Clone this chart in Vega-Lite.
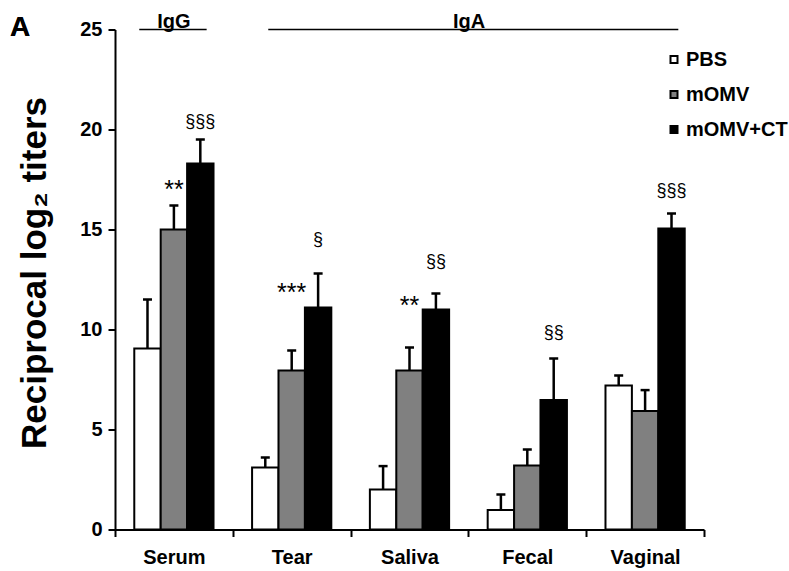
{
  "$schema": "https://vega.github.io/schema/vega-lite/v6.json",
  "autosize": {"type": "none"},
  "padding": {"left": 115, "top": 29.5, "right": 85, "bottom": 41.5},
  "width": 589,
  "height": 500,
  "background": "white",
  "config": {
    "view": {"stroke": null},
    "font": "Liberation Sans",
    "axis": {
      "domainColor": "black",
      "domainWidth": 2,
      "tickColor": "black",
      "tickWidth": 2,
      "labelColor": "black",
      "labelFont": "Liberation Sans",
      "labelFontWeight": "bold",
      "grid": false
    }
  },
  "datasets": {
    "bars": [
      {"sample": "Serum", "group": "PBS", "value": 9.05, "err": 11.5},
      {"sample": "Serum", "group": "mOMV", "value": 15.0, "err": 16.2},
      {"sample": "Serum", "group": "mOMV+CT", "value": 18.3, "err": 19.5},
      {"sample": "Tear", "group": "PBS", "value": 3.1, "err": 3.6},
      {"sample": "Tear", "group": "mOMV", "value": 7.95, "err": 8.95},
      {"sample": "Tear", "group": "mOMV+CT", "value": 11.1, "err": 12.8},
      {"sample": "Saliva", "group": "PBS", "value": 2.0, "err": 3.17},
      {"sample": "Saliva", "group": "mOMV", "value": 7.95, "err": 9.1},
      {"sample": "Saliva", "group": "mOMV+CT", "value": 11.0, "err": 11.8},
      {"sample": "Fecal", "group": "PBS", "value": 0.97, "err": 1.75},
      {"sample": "Fecal", "group": "mOMV", "value": 3.2, "err": 4.0},
      {"sample": "Fecal", "group": "mOMV+CT", "value": 6.47, "err": 8.55},
      {"sample": "Vaginal", "group": "PBS", "value": 7.2, "err": 7.7},
      {"sample": "Vaginal", "group": "mOMV", "value": 5.93, "err": 6.97},
      {"sample": "Vaginal", "group": "mOMV+CT", "value": 15.05, "err": 15.8}
    ],
    "ann": [
      {"sample": "Serum", "group": "mOMV", "label": "**", "label_y": 16.99},
      {"sample": "Serum", "group": "mOMV+CT", "label": "§§§", "label_y": 20.37},
      {"sample": "Tear", "group": "mOMV", "label": "***", "label_y": 11.83},
      {"sample": "Tear", "group": "mOMV+CT", "label": "§", "label_y": 14.5},
      {"sample": "Saliva", "group": "mOMV", "label": "**", "label_y": 11.2},
      {"sample": "Saliva", "group": "mOMV+CT", "label": "§§", "label_y": 13.39},
      {"sample": "Fecal", "group": "mOMV+CT", "label": "§§", "label_y": 9.85},
      {"sample": "Vaginal", "group": "mOMV+CT", "label": "§§§", "label_y": 16.92}
    ],
    "brackets": [
      {"label": "IgG", "start": 0.206, "end": 0.778, "mid": 0.5},
      {"label": "IgA", "start": 1.301, "end": 4.782, "mid": 3.005}
    ]
  },
  "layer": [
    {
      "layer": [
        {
          "data": {"name": "bars"},
          "mark": {"type": "bar", "stroke": "black", "strokeWidth": 2},
          "encoding": {
            "x": {
              "field": "sample", "type": "nominal",
              "sort": ["Serum", "Tear", "Saliva", "Fecal", "Vaginal"],
              "scale": {"paddingInner": 0, "paddingOuter": 0},
              "axis": {"title": null, "labelAngle": 0, "tickBand": "extent", "tickSize": 7, "labelFontSize": 20, "labelPadding": 11}
            },
            "xOffset": {
              "field": "group", "type": "nominal",
              "sort": ["PBS", "mOMV", "mOMV+CT"],
              "scale": {"paddingInner": 0, "paddingOuter": 0.73}
            },
            "y": {
              "field": "value", "type": "quantitative",
              "scale": {"domain": [0, 25], "nice": false},
              "axis": {
                "values": [0, 5, 10, 15, 20, 25],
                "title": "Reciprocal log₂ titers",
                "titleFont": "Liberation Sans",
                "titleFontWeight": "bold",
                "titleFontSize": 35,
                "titleColor": "black",
                "titlePadding": 27,
                "titleY": 243,
                "labelFontSize": 20,
                "labelPadding": 6,
                "tickSize": 7
              }
            },
            "fill": {
              "field": "group", "type": "nominal",
              "scale": {"domain": ["PBS", "mOMV", "mOMV+CT"], "range": ["white", "#808080", "black"]},
              "legend": {
                "orient": "none", "legendX": 549, "legendY": 20, "title": null,
                "symbolType": "square", "symbolSize": 49,
                "symbolStrokeColor": "black", "symbolStrokeWidth": 2,
                "labelFont": "Liberation Sans", "labelFontWeight": "bold",
                "labelFontSize": 20, "labelColor": "black",
                "rowPadding": 15, "labelOffset": 2, "padding": 0
              }
            }
          }
        },
        {
          "data": {"name": "bars"},
          "mark": {"type": "rule", "color": "black", "strokeWidth": 2.5},
          "encoding": {
            "x": {"field": "sample", "type": "nominal", "sort": ["Serum", "Tear", "Saliva", "Fecal", "Vaginal"]},
            "xOffset": {"field": "group", "type": "nominal", "sort": ["PBS", "mOMV", "mOMV+CT"]},
            "y": {"field": "value", "type": "quantitative"},
            "y2": {"field": "err"}
          }
        },
        {
          "data": {"name": "bars"},
          "mark": {"type": "tick", "color": "black", "size": 9, "thickness": 2.5, "opacity": 1},
          "encoding": {
            "x": {"field": "sample", "type": "nominal", "sort": ["Serum", "Tear", "Saliva", "Fecal", "Vaginal"]},
            "xOffset": {"field": "group", "type": "nominal", "sort": ["PBS", "mOMV", "mOMV+CT"]},
            "y": {"field": "err", "type": "quantitative"}
          }
        },
        {
          "data": {"name": "ann"},
          "transform": [{"filter": "indexof(datum.label, '*') < 0"}],
          "mark": {"type": "text", "font": "Liberation Sans", "fontSize": 18, "color": "black", "baseline": "middle", "align": "center"},
          "encoding": {
            "x": {"field": "sample", "type": "nominal", "sort": ["Serum", "Tear", "Saliva", "Fecal", "Vaginal"]},
            "xOffset": {"field": "group", "type": "nominal", "sort": ["PBS", "mOMV", "mOMV+CT"]},
            "y": {"field": "label_y", "type": "quantitative"},
            "text": {"field": "label"}
          }
        },
        {
          "data": {"name": "ann"},
          "transform": [{"filter": "indexof(datum.label, '*') >= 0"}],
          "mark": {"type": "text", "font": "Liberation Sans", "fontSize": 25, "color": "black", "baseline": "middle", "align": "center", "letterSpacing": 3},
          "encoding": {
            "x": {"field": "sample", "type": "nominal", "sort": ["Serum", "Tear", "Saliva", "Fecal", "Vaginal"]},
            "xOffset": {"field": "group", "type": "nominal", "sort": ["PBS", "mOMV", "mOMV+CT"]},
            "y": {"field": "label_y", "type": "quantitative"},
            "text": {"field": "label"}
          }
        }
      ]
    },
    {
      "data": {"name": "brackets"},
      "layer": [
        {
          "mark": {"type": "rule", "color": "black", "strokeWidth": 1.5},
          "encoding": {
            "x": {"field": "start", "type": "quantitative", "scale": {"domain": [0, 5], "nice": false, "zero": false}, "axis": null},
            "x2": {"field": "end"},
            "y": {"datum": 25, "type": "quantitative"}
          }
        },
        {
          "mark": {"type": "text", "font": "Liberation Sans", "fontWeight": "bold", "fontSize": 20, "color": "black", "baseline": "alphabetic", "align": "center", "dy": -2},
          "encoding": {
            "x": {"field": "mid", "type": "quantitative", "scale": {"domain": [0, 5], "nice": false, "zero": false}, "axis": null},
            "y": {"datum": 25, "type": "quantitative"},
            "text": {"field": "label"}
          }
        },
        {
          "mark": {"type": "text", "font": "Liberation Sans", "fontWeight": "bold", "fontSize": 28, "color": "black", "baseline": "middle", "align": "center", "text": "A", "dy": -2},
          "encoding": {
            "x": {"datum": -0.806, "type": "quantitative", "axis": null},
            "y": {"datum": 25, "type": "quantitative"}
          }
        }
      ]
    }
  ],
  "resolve": {"scale": {"x": "independent"}}
}
